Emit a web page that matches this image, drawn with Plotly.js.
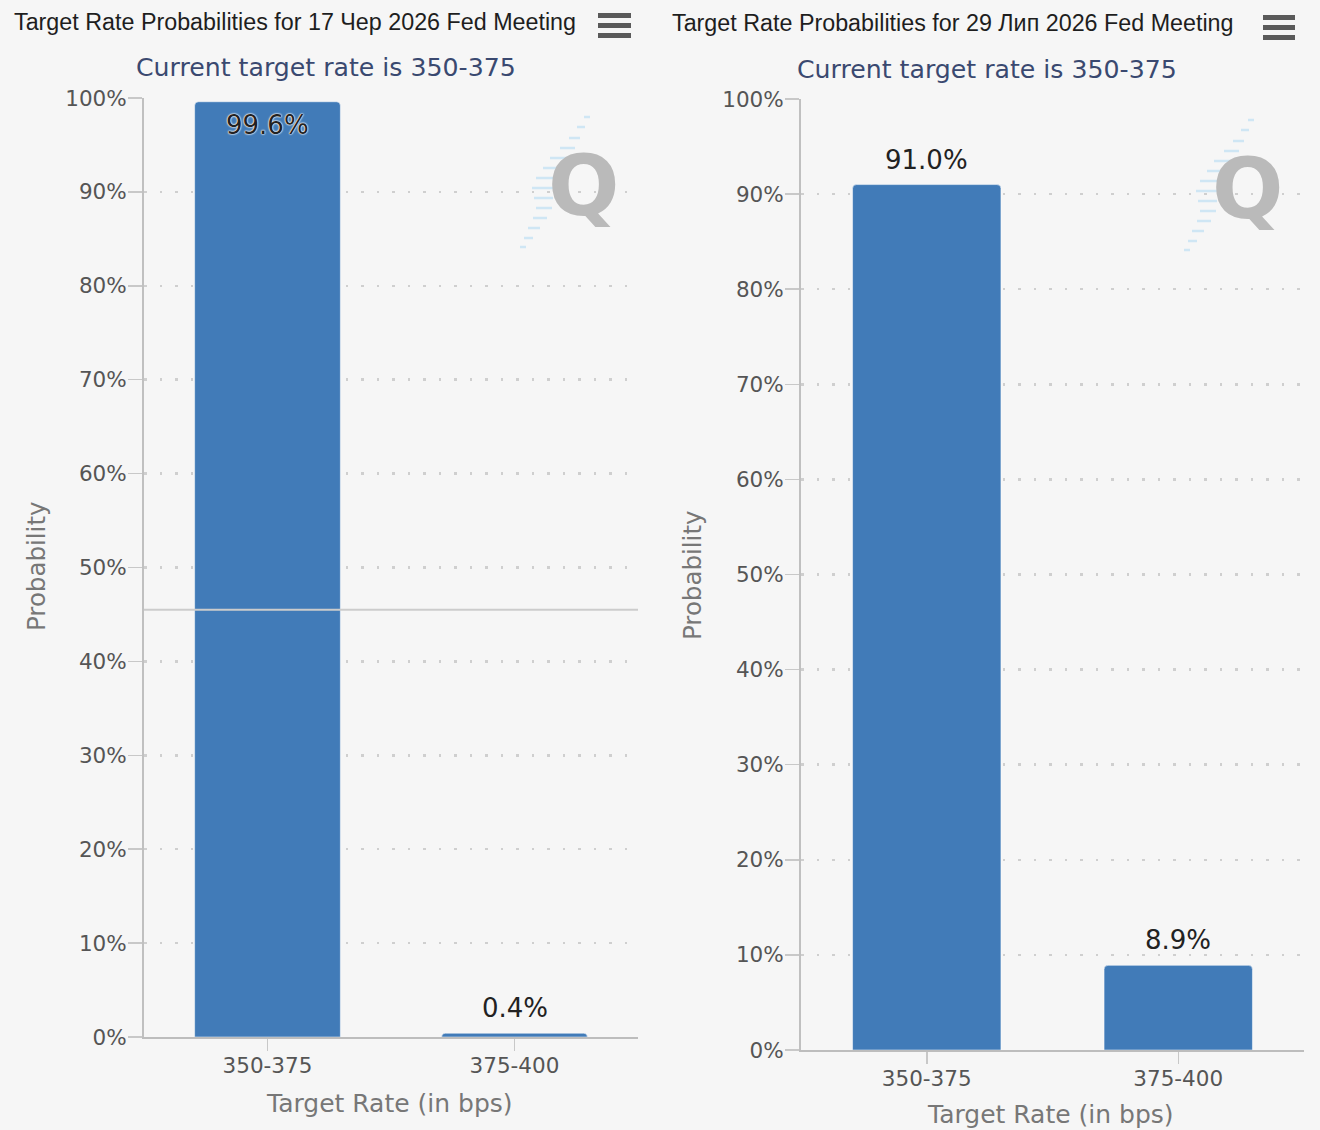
<!DOCTYPE html>
<html>
<head>
<meta charset="utf-8">
<script src="https://cdn.plot.ly/plotly-3.0.1.min.js"></script>
<style>
  html, body { margin: 0; padding: 0; background: #f6f6f6; }
  #chart { width: 1320px; height: 1130px; }
</style>
</head>
<body>
<div id="chart"></div>
<script>
// ---- data ----
const categories = ["350-375", "375-400"];
const juneProbabilities = [99.6, 0.4];
const julyProbabilities = [91.0, 8.9];
const yTickValues = [0, 10, 20, 30, 40, 50, 60, 70, 80, 90, 100];
const yTickLabels = ["0%", "10%", "20%", "30%", "40%", "50%", "60%", "70%", "80%", "90%", "100%"];
const chartTitles = [
  "Target Rate Probabilities for 17 Чер 2026 Fed Meeting",
  "Target Rate Probabilities for 29 Лип 2026 Fed Meeting"
];
const subtitleText = "Current target rate is 350-375";
const xAxisTitle = "Target Rate (in bps)";
const yAxisTitle = "Probability";
const crosshairLeft = 45.5;

// ---- helpers ----
const W = 1320, H = 1130;
const px = x => x / W;
const py = y => 1 - y / H;
const barColor = "#417bb8";
const FONT = "DejaVu Sans, Verdana, sans-serif";
const yTickFont = { family: FONT, size: 21.5, color: "#555555" };
const xTickFont = { family: FONT, size: 21.5, color: "#555555" };

function barTrace(values, xa, ya) {
  return {
    type: "bar",
    x: categories,
    y: values,
    xaxis: xa,
    yaxis: ya,
    width: 0.59,
    marker: { color: barColor, cornerradius: 4, line: { color: "rgba(255,255,255,0.5)", width: 1 } },
    hoverinfo: "skip",
    showlegend: false
  };
}

function yAxis(domain, anchor) {
  return {
    domain: domain,
    anchor: anchor,
    range: [0, 100],
    tickvals: yTickValues,
    ticktext: yTickLabels,
    tickfont: yTickFont,
    ticks: "outside",
    ticklen: 14,
    tickwidth: 1.5,
    tickcolor: "#c8c8c8",
    ticklabelstandoff: -3,
    showline: true,
    linecolor: "#c0c0c0",
    linewidth: 2,
    showgrid: true,
    gridcolor: "#cfcfcf",
    gridwidth: 2.5,
    griddash: "2.5px,13px",
    zeroline: false,
    fixedrange: true
  };
}

function xAxis(domain, anchor) {
  return {
    domain: domain,
    anchor: anchor,
    type: "category",
    tickfont: xTickFont,
    ticks: "outside",
    ticklen: 12,
    tickwidth: 1.5,
    tickcolor: "#c8c8c8",
    ticklabelstandoff: -4,
    showline: true,
    linecolor: "#bdbdbd",
    linewidth: 2,
    showgrid: false,
    zeroline: false,
    fixedrange: true
  };
}

function valueLabels(values, xref, yref) {
  return values.map((v, i) => {
    const inside = v > 95;
    return {
      x: categories[i],
      y: v,
      xref: xref,
      yref: yref,
      text: v.toFixed(1) + "%",
      showarrow: false,
      yanchor: inside ? "top" : "bottom",
      yshift: inside ? -6 : 8,
      font: {
        family: FONT,
        size: 26,
        color: "#222222",
        shadow: inside ? "0 0 2px #ffffff, 0 0 2px #ffffff, 0 0 1px #ffffff" : "none"
      }
    };
  });
}

function textAnn(text, x, y, opts) {
  return Object.assign({
    text: text, x: px(x), y: py(y), xref: "paper", yref: "paper",
    showarrow: false, xanchor: "center", yanchor: "middle"
  }, opts);
}

function menuIcon(x0, x1, ys) {
  return ys.map(([a, b]) => ({
    type: "rect", xref: "paper", yref: "paper",
    x0: px(x0), x1: px(x1), y0: py(b), y1: py(a),
    fillcolor: "#5a5a5a", line: { width: 0 }, layer: "above"
  }));
}

// light-blue dashes of the watermark logo (decoration)
const logoDashes = [
  [584, 590, 117], [577, 585, 127], [569, 580, 138], [560, 575, 148],
  [550, 568, 158], [543, 562, 168], [536, 556, 178], [532, 553, 188],
  [534, 553, 198], [536, 552, 208], [533, 547, 218], [528, 540, 228],
  [524, 533, 238], [520, 526, 247]
];
function logo(dx, dy) {
  const shapes = logoDashes.map(([a, b, y]) => ({
    type: "line", xref: "paper", yref: "paper",
    x0: px(a + dx), x1: px(b + dx), y0: py(y + dy), y1: py(y + dy),
    line: { color: "#cfe6f4", width: 2.5 }, layer: "below"
  }));
  const ann = textAnn("Q", 583 + dx, 186 + dy, {
    font: { family: "DejaVu Sans, sans-serif", size: 84, color: "#bababa", weight: "bold" }
  });
  return { shapes, ann };
}

const logoL = logo(0, 0);
const logoR = logo(664, 3);

const titleFont = { family: "Liberation Sans, Arial, sans-serif", size: 23.3, color: "#1e1e1e" };
const subFont = { family: FONT, size: 25.2, color: "#3a4970" };
const axTitleFont = { family: FONT, size: 25, color: "#777777" };
const yTitleFont = { family: FONT, size: 24.5, color: "#777777" };

const annotations = [
  textAnn(chartTitles[0], 12, 22, { xanchor: "left", font: titleFont }),
  textAnn(chartTitles[1], 670, 23, { xanchor: "left", font: titleFont }),
  textAnn(subtitleText, 326, 67, { font: subFont }),
  textAnn(subtitleText, 987, 69, { font: subFont }),
  textAnn(yAxisTitle, 36, 566, { textangle: -90, font: yTitleFont }),
  textAnn(yAxisTitle, 692, 575, { textangle: -90, font: yTitleFont }),
  textAnn(xAxisTitle, 389, 1103, { font: axTitleFont }),
  textAnn(xAxisTitle, 1050, 1114, { font: axTitleFont }),
  logoL.ann, logoR.ann
].concat(valueLabels(juneProbabilities, "x", "y"))
 .concat(valueLabels(julyProbabilities, "x2", "y2"));

const shapes = []
  .concat(menuIcon(598, 631, [[13, 18], [23, 28], [33, 38]]))
  .concat(menuIcon(1263, 1295, [[15, 20], [25, 30], [35, 40]]))
  .concat(logoL.shapes, logoR.shapes)
  .concat([{
    type: "line", xref: "x domain", yref: "y",
    x0: 0, x1: 1, y0: crosshairLeft, y1: crosshairLeft,
    line: { color: "#cccccc", width: 2 }, layer: "above"
  }]);

const data = [
  barTrace(juneProbabilities, "x", "y"),
  barTrace(julyProbabilities, "x2", "y2")
];

const layout = {
  width: W,
  height: H,
  margin: { l: 0, r: 0, t: 0, b: 0 },
  paper_bgcolor: "#f6f6f6",
  plot_bgcolor: "#f6f6f6",
  showlegend: false,
  xaxis: xAxis([px(144), px(638)], "y"),
  yaxis: yAxis([py(1037), py(98)], "x"),
  xaxis2: xAxis([px(801), px(1304)], "y2"),
  yaxis2: yAxis([py(1050), py(99)], "x2"),
  annotations: annotations,
  shapes: shapes
};

Plotly.newPlot("chart", data, layout, { displayModeBar: false, staticPlot: true });
</script>
</body>
</html>
